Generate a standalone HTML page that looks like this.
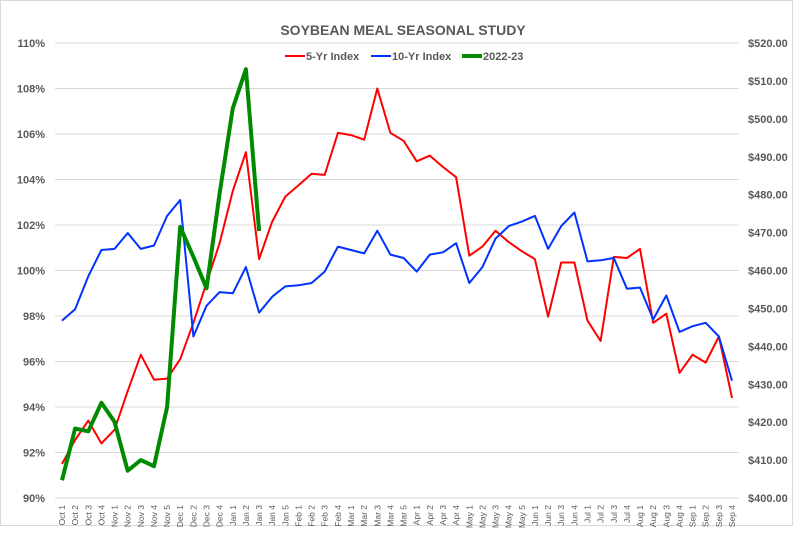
<!DOCTYPE html>
<html><head><meta charset="utf-8"><style>
body{margin:0;background:#fff;}
svg{display:block;font-family:"Liberation Sans",Arial,sans-serif;}
</style></head><body>
<svg id="chart" width="807" height="546" viewBox="0 0 807 546" xmlns="http://www.w3.org/2000/svg">
<rect x="0.5" y="0.5" width="792" height="525" fill="#fff" stroke="#d9d9d9"/>
<text x="403" y="35" text-anchor="middle" font-size="14" font-weight="bold" fill="#595959">SOYBEAN MEAL SEASONAL STUDY</text>
<g font-size="11" font-weight="bold" fill="#595959">
<line x1="285" y1="56" x2="305" y2="56" stroke="#ff0000" stroke-width="2"/>
<text x="306" y="60">5-Yr Index</text>
<line x1="371" y1="56" x2="391" y2="56" stroke="#0033ff" stroke-width="2"/>
<text x="392" y="60">10-Yr Index</text>
<line x1="462" y1="56" x2="482" y2="56" stroke="#008a00" stroke-width="4"/>
<text x="483" y="60">2022-23</text>
</g>
<g id="grid"></g><g id="axes"></g><g id="series"></g>
</svg>
<script>
const categories=["Oct 1","Oct 2","Oct 3","Oct 4","Nov 1","Nov 2","Nov 3","Nov 4","Nov 5","Dec 1","Dec 2","Dec 3","Dec 4","Jan 1","Jan 2","Jan 3","Jan 4","Jan 5","Feb 1","Feb 2","Feb 3","Feb 4","Mar 1","Mar 2","Mar 3","Mar 4","Mar 5","Apr 1","Apr 2","Apr 3","Apr 4","May 1","May 2","May 3","May 4","May 5","Jun 1","Jun 2","Jun 3","Jun 4","Jul 1","Jul 2","Jul 3","Jul 4","Aug 1","Aug 2","Aug 3","Aug 4","Sep 1","Sep 2","Sep 3","Sep 4"];
const fiveYr=[91.5,92.55,93.4,92.4,93.0,94.7,96.3,95.2,95.25,96.1,97.7,99.45,101.2,103.5,105.2,100.5,102.15,103.25,103.75,104.25,104.2,106.05,105.95,105.75,108.0,106.05,105.7,104.8,105.05,104.55,104.1,100.65,101.05,101.75,101.25,100.85,100.5,97.97,100.35,100.35,97.8,96.9,100.6,100.55,100.95,97.7,98.1,95.5,96.3,95.95,97.1,94.4];
const tenYr=[97.8,98.3,99.75,100.9,100.95,101.65,100.95,101.1,102.4,103.1,97.1,98.45,99.05,99.0,100.15,98.15,98.85,99.3,99.35,99.45,99.95,101.05,100.9,100.75,101.75,100.7,100.55,99.95,100.7,100.8,101.2,99.45,100.15,101.4,101.95,102.15,102.4,100.95,101.95,102.55,100.4,100.45,100.55,99.2,99.25,97.85,98.9,97.3,97.55,97.7,97.1,95.15];
const current=[404.7,418.3,417.6,425.1,420.1,407.2,410.0,408.4,424.0,471.5,463.6,455.3,480.3,502.8,513.1,470.4];
const leftTicks=["90%","92%","94%","96%","98%","100%","102%","104%","106%","108%","110%"];
const rightTicks=["$400.00","$410.00","$420.00","$430.00","$440.00","$450.00","$460.00","$470.00","$480.00","$490.00","$500.00","$510.00","$520.00"];
const NS="http://www.w3.org/2000/svg";
const plotTop=43,plotBot=498,plotLeft=55,plotRight=739,x0=62,x1=732;
const yL=v=>plotBot-(v-90)/20*(plotBot-plotTop);
const yR=v=>plotBot-(v-400)/120*(plotBot-plotTop);
const xS=i=>x0+i*(x1-x0)/(categories.length-1);
function mk(tag,attrs,parent){const e=document.createElementNS(NS,tag);for(const k in attrs)e.setAttribute(k,attrs[k]);parent.appendChild(e);return e;}
const gridG=document.getElementById('grid'),axesG=document.getElementById('axes'),serG=document.getElementById('series');
leftTicks.forEach((t,i)=>{const v=90+i*2;const y=yL(v);
const l=mk('line',{x1:plotLeft,x2:plotRight,y1:y,y2:y,stroke:'#d9d9d9','stroke-width':1},gridG);


const tx=mk('text',{x:45,y:y+4,'text-anchor':'end','font-size':11,'font-weight':'bold',fill:'#595959'},axesG);tx.textContent=t;

});
rightTicks.forEach((t,i)=>{const v=400+i*10;const y=yR(v);
const tx=mk('text',{x:748,y:y+4,'font-size':11,'font-weight':'bold',fill:'#595959'},axesG);tx.textContent=t;

});
categories.forEach((c,i)=>{const x=xS(i);
const tx=mk('text',{x:0,y:0,'text-anchor':'end','font-size':8.5,fill:'#595959',transform:`translate(${x+3},${505}) rotate(-90)`},axesG);tx.textContent=c;

});
function drawLine(data,yf,color,w,name){const d=data.map((v,i)=>(i?'L':'M')+xS(i).toFixed(1)+','+yf(v).toFixed(1)).join('');
const p=mk('path',{d:d,fill:'none',stroke:color,'stroke-width':w,'stroke-linejoin':'round'},serG);

}
drawLine(fiveYr,yL,'#ff0000',2,'five-yr-index-line');
drawLine(tenYr,yL,'#0033ff',2,'ten-yr-index-line');
drawLine(current,yR,'#008a00',4,'current-2022-23-line');
</script>
</body></html>
